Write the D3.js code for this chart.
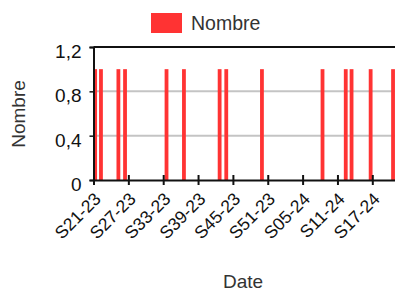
<!DOCTYPE html>
<html><head><meta charset="utf-8">
<script src="https://cdn.jsdelivr.net/npm/d3@7"></script>
<style>
html,body{margin:0;padding:0;background:#fff;overflow:hidden}
svg{display:block;font-family:"Liberation Sans",Arial,sans-serif}
</style></head>
<body>
<svg id="c" width="395" height="291"></svg>
<script>
// ---- data ----
const seriesName = "Nombre";
const eventDates = ["2023-05-24","2023-05-31","2023-06-21","2023-06-29","2023-08-18","2023-09-08",
  "2023-10-21","2023-10-29","2023-12-11","2024-02-22","2024-03-21","2024-03-28","2024-04-20","2024-05-17"];
const eventValues = [1,1,1,1,1,1,1,1,1,1,1,1,1,1];
const xTickLabels = ["S21-23","S27-23","S33-23","S39-23","S45-23","S51-23","S05-24","S11-24","S17-24"];
const yTicks = [0,0.4,0.8,1.2];
const xDomain = ["2023-05-22","2024-06-20"];

// ---- helpers ----
const parse = d3.utcParse("%Y-%m-%d");
function isoWeekStart(label){ // "S21-23"
  const w = +label.slice(1,3), yr = 2000 + (+label.slice(4));
  const jan4 = new Date(Date.UTC(yr,0,4));
  const dow = (jan4.getUTCDay()+6)%7;
  const mon1 = new Date(jan4.getTime() - dow*864e5);
  return new Date(mon1.getTime() + (w-1)*7*864e5);
}

const svg = d3.select("#c");
const plotLeft = 93.5, plotBottom = 180, plotTop = 47;
const d0 = parse(xDomain[0]), d1 = parse(xDomain[1]);
const pxPerDay = 34.85/42;
const x = d3.scaleUtc().domain([d0,d1]).range([plotLeft, plotLeft + (d1-d0)/864e5*pxPerDay]);
const y = d3.scaleLinear().domain([0,1.2]).range([plotBottom, plotTop]);
const fmt = v => d3.format("~g")(v).replace(".",",");
const FONT = "Liberation Sans, Arial, sans-serif";

// gridlines
svg.append("g").selectAll("line").data(yTicks.filter(v=>v>0 && v<1.2)).join("line")
  .attr("x1",plotLeft).attr("x2",395).attr("y1",d=>y(d)).attr("y2",d=>y(d))
  .attr("stroke","#c4c4c4").attr("stroke-width",2);

// bars
const bw = 3.8;
svg.append("g").selectAll("rect").data(eventDates.map((d,i)=>({d:parse(d),v:eventValues[i]}))).join("rect")
  .attr("x",d=>x(d.d)-bw/2).attr("width",bw)
  .attr("y",d=>y(d.v)).attr("height",d=>y(0)-y(d.v))
  .attr("fill","#ff3333");

// frame: top border
svg.append("line").attr("x1",plotLeft).attr("x2",395).attr("y1",plotTop).attr("y2",plotTop)
  .attr("stroke","#111").attr("stroke-width",2);

// y axis
const yAxis = d3.axisLeft(y).tickValues(yTicks).tickFormat(fmt).tickSize(4).tickPadding(8);
const gy = svg.append("g").attr("transform",`translate(${plotLeft},0)`).call(yAxis);
gy.select(".domain").attr("stroke","#111").attr("stroke-width",2);
gy.selectAll(".tick line").attr("stroke","#111").attr("stroke-width",1.5);
gy.selectAll(".tick text").attr("font-size",19).attr("fill","#111")
  .attr("font-family",FONT).attr("dy","0.55em");

// x axis
const tickDates = xTickLabels.map(isoWeekStart);
const xAxis = d3.axisBottom(x).tickValues(tickDates)
  .tickFormat((d,i)=>xTickLabels[i]).tickSizeInner(5).tickSizeOuter(0).tickPadding(4);
const gx = svg.append("g").attr("transform",`translate(0,${plotBottom})`).call(xAxis);
gx.select(".domain").attr("stroke","#111").attr("stroke-width",2);
gx.selectAll(".tick line").attr("stroke","#111").attr("stroke-width",2).attr("y1",-5).attr("y2",5);
gx.selectAll(".tick text").attr("font-size",17.5).attr("fill","#111")
  .attr("font-family",FONT)
  .attr("text-anchor","end").attr("x",0).attr("y",0).attr("dy",0)
  .attr("transform","translate(8,20) rotate(-45)");

// axis titles
svg.append("text").attr("x",243).attr("y",288).attr("text-anchor","middle")
  .attr("font-family",FONT).attr("font-size",19).attr("fill","#333").text("Date");
svg.append("text").attr("transform","translate(25,114) rotate(-90)").attr("text-anchor","middle")
  .attr("font-family",FONT).attr("font-size",19).attr("fill","#333").text(seriesName);

// legend
const lg = svg.append("g");
lg.append("rect").attr("x",151).attr("y",13).attr("width",31).attr("height",20).attr("fill","#ff3333");
lg.append("text").attr("x",191).attr("y",30).attr("font-family",FONT).attr("font-size",19.5)
  .attr("fill","#333").text(seriesName);
</script>
</body></html>
